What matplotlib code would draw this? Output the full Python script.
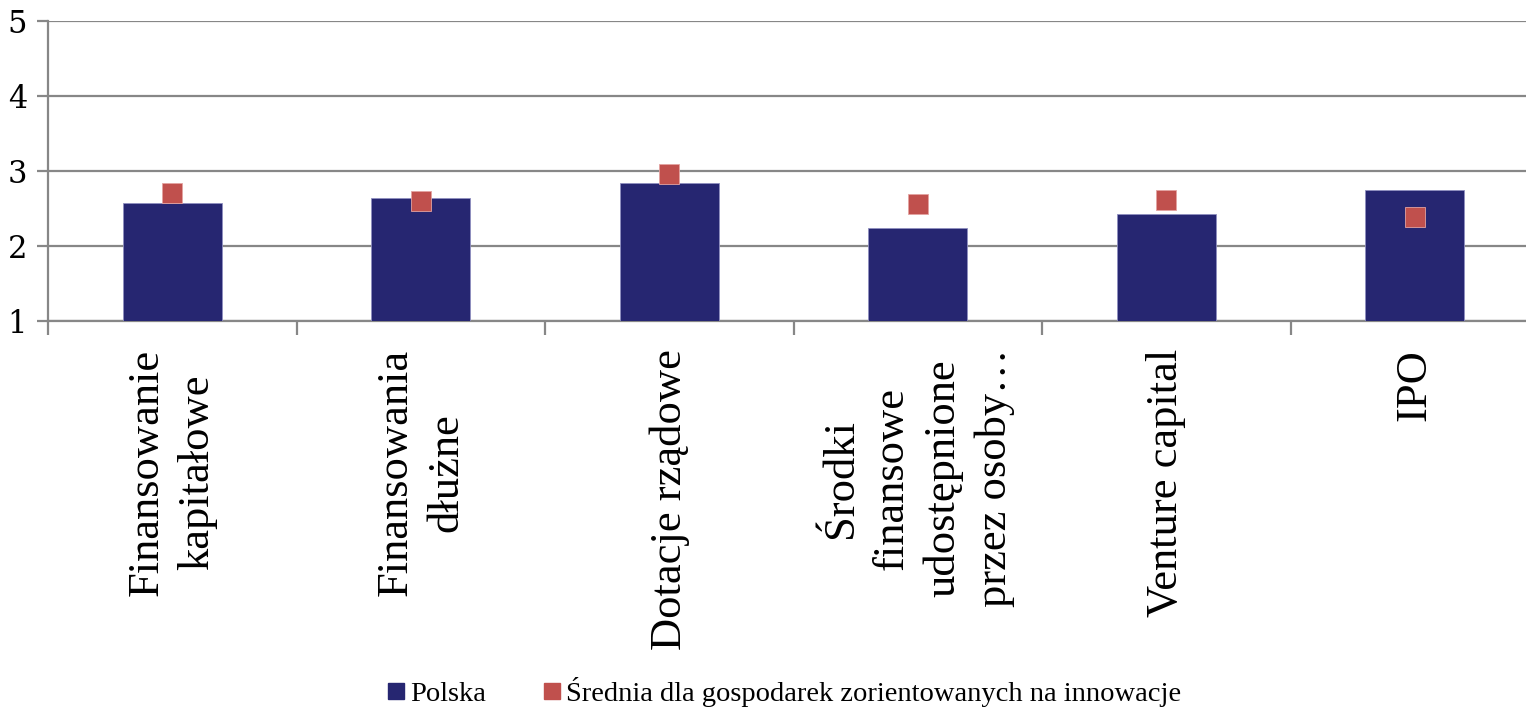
import numpy as np
import matplotlib.pyplot as plt
from matplotlib.lines import Line2D

# Dane
categories = [
    "Finansowanie\nkapitałowe",
    "Finansowania\ndłużne",
    "Dotacje rządowe",
    "Środki\nfinansowe\nudostępnione\nprzez osoby…",
    "Venture capital",
    "IPO",
]
polska = [2.58, 2.64, 2.84, 2.24, 2.43, 2.74]
srednia = [2.71, 2.60, 2.96, 2.56, 2.61, 2.39]
y_ticks = [1, 2, 3, 4, 5]

bar_color = "#262671"
marker_color = "#C0504D"
grid_color = "#878787"

plt.rcParams["font.family"] = ["Liberation Serif", "DejaVu Serif"]

fig = plt.figure(figsize=(15.26, 7.08), dpi=100)
ax = fig.add_axes([48 / 1526, 1 - 321 / 708, (1539 - 48) / 1526, 300 / 708])

x = np.arange(len(categories))
base = y_ticks[0]

ax.bar(
    x,
    np.array(polska) - base,
    bottom=base,
    width=0.4,
    color=bar_color,
    edgecolor="#8f8fc0",
    linewidth=0.6,
    zorder=3,
)
ax.plot(
    x,
    srednia,
    linestyle="none",
    marker="s",
    markersize=15,
    color=marker_color,
    markeredgecolor="#e3a3a1",
    markeredgewidth=0.6,
    zorder=4,
)

ax.set_ylim(1, 5)
ax.set_xlim(-0.5, len(categories) - 0.5)

# Siatka
ax.set_yticks(y_ticks)
ax.set_yticklabels(y_ticks, fontsize=22, family="DejaVu Serif")
ax.yaxis.grid(True, color=grid_color, linewidth=1.6, zorder=0)
ax.set_axisbelow(True)

ax.set_xticks(x)
ax.set_xticklabels(categories, rotation=90, fontsize=32, ha="center", va="top",
                   multialignment="center", linespacing=1.35)
ax.set_xticks(np.arange(-0.5, len(categories), 1), minor=True)
ax.tick_params(axis="x", which="major", length=0, pad=20)
ax.tick_params(axis="x", which="minor", length=10, width=1.6, color=grid_color)
ax.tick_params(axis="y", length=8, width=1.6, color=grid_color, pad=7)

for side in ["top", "right"]:
    ax.spines[side].set_visible(False)
for side in ["left", "bottom"]:
    ax.spines[side].set_color(grid_color)
    ax.spines[side].set_linewidth(1.6)

# Legenda
handles = [
    Line2D([], [], linestyle="none", marker="s", markersize=12, color=bar_color),
    Line2D([], [], linestyle="none", marker="s", markersize=12, color=marker_color),
]
fig.legend(
    handles,
    ["Polska", "Średnia dla gospodarek zorientowanych na innowacje"],
    loc="center",
    bbox_to_anchor=(0.514, 1 - 692 / 708),
    ncol=2,
    frameon=False,
    fontsize=20.5,
    handlelength=0.6,
    handletextpad=0.2,
    columnspacing=2.0,
)

plt.savefig("out.png", dpi=100)
